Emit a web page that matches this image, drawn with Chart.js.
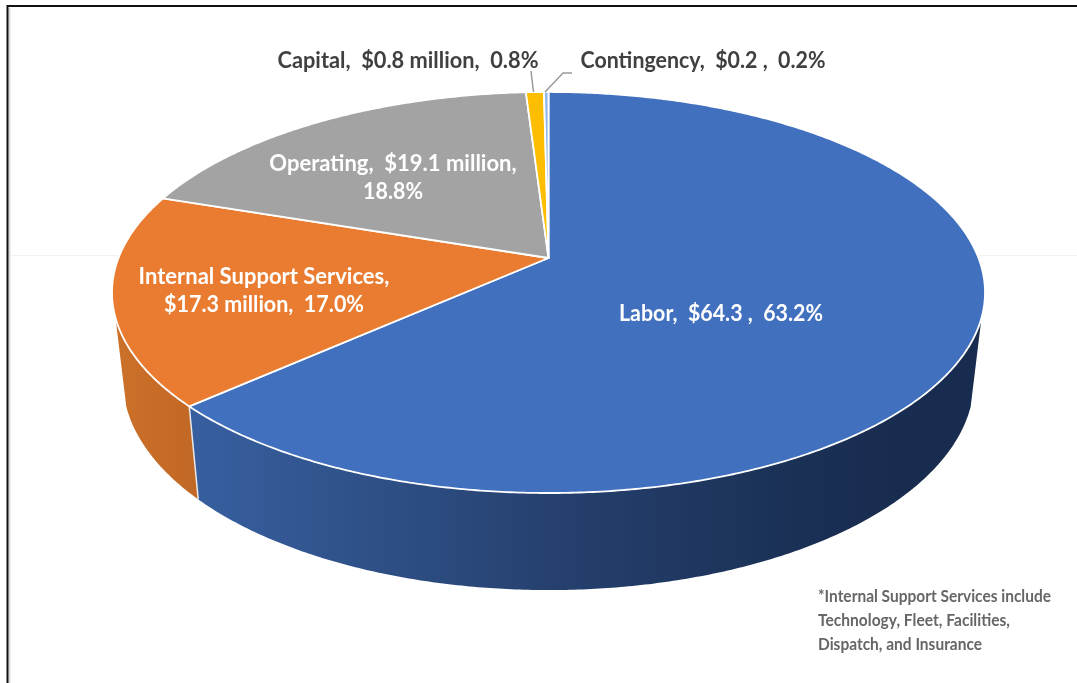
<!DOCTYPE html>
<html>
<head>
<meta charset="utf-8">
<title>Budget by category</title>
<style>
    html, body { margin: 0; padding: 0; background: #fff; overflow: hidden; }
    #wrap { width: 1077px; height: 683px; }
</style>
<script src="https://cdn.jsdelivr.net/npm/chart.js@4"></script>
</head>
<body>
<div id="wrap"><canvas id="budgetPie"></canvas></div>
<script>
const categories = ['Labor', 'Internal Support Services', 'Operating', 'Capital', 'Contingency'];
const amounts = [64.3, 17.3, 19.1, 0.8, 0.2];
const amountLabels = ['$64.3 ', '$17.3 million', '$19.1 million', '$0.8 million', '$0.2 '];
const sliceColors = ['#4170BF', '#E97C30', '#A3A3A3', '#FDBD00', '#8FB8E8'];
const footnoteLines = [
    '*Internal Support Services include',
    'Technology, Fleet, Facilities,',
    'Dispatch, and Insurance'
];

// disc projection: the pie is a circle seen from above, so the far half is shorter
const RX = 430, RY = 194.6, PERSP = -0.172;
// bottom rim of the cylinder
const DROP = 86, LOW_X = 0.975, LOW_Y = 1.047;
// part of the rim where the side wall faces the viewer
const WALL_FROM = 17 * Math.PI / 180, WALL_TO = 163 * Math.PI / 180;

const wallStops = {
    '#4170BF': [[197, '#375F9F'], [548, '#26416F'], [800, '#1A3055'], [900, '#182C4F']],
    '#E97C30': [[113, '#CB7129'], [197, '#C26826']]
};

function topPoint(arc, a) {
    const w = 1 + PERSP * Math.sin(a);
    return [arc.x + RX * Math.cos(a) / w, arc.y + RY * Math.sin(a) / w];
}

function lowPoint(arc, a) {
    const w = 1 + PERSP * Math.sin(a);
    return [arc.x + LOW_X * RX * Math.cos(a) / w, arc.y + DROP + LOW_Y * RY * Math.sin(a) / w];
}

function traceRim(ctx, arc, pointAt, from, to) {
    const steps = Math.max(2, Math.ceil(Math.abs(to - from) * 120));
    for (let i = 0; i <= steps; i++) {
        const p = pointAt(arc, from + (to - from) * i / steps);
        ctx.lineTo(p[0], p[1]);
    }
}

function drawWall(ctx, arc) {
    const stops = wallStops[arc.options.backgroundColor];
    const from = Math.max(arc.startAngle, WALL_FROM);
    const to = Math.min(arc.endAngle, WALL_TO);
    if (!stops || from >= to) return;

    const x0 = stops[0][0], x1 = stops[stops.length - 1][0];
    const grad = ctx.createLinearGradient(x0, 0, x1, 0);
    stops.forEach(s => grad.addColorStop((s[0] - x0) / (x1 - x0), s[1]));

    ctx.beginPath();
    traceRim(ctx, arc, topPoint, from, to);
    traceRim(ctx, arc, lowPoint, to, from);
    ctx.closePath();
    ctx.fillStyle = grad;
    ctx.fill();

    // seam between two neighbouring walls
    if (from > WALL_FROM) {
        const a = topPoint(arc, from), b = lowPoint(arc, from);
        ctx.beginPath();
        ctx.moveTo(a[0], a[1]);
        ctx.lineTo(b[0], b[1]);
        ctx.strokeStyle = '#E8E8E8';
        ctx.lineWidth = 1.5;
        ctx.stroke();
    }
}

// the library still lays out the slices, this only changes how each one is painted
Chart.ArcElement.prototype.draw = function (ctx) {
    const o = this.options;
    ctx.save();
    drawWall(ctx, this);
    ctx.beginPath();
    ctx.moveTo(this.x, this.y);
    traceRim(ctx, this, topPoint, this.startAngle, this.endAngle);
    ctx.closePath();
    ctx.fillStyle = o.backgroundColor;
    ctx.fill();
    ctx.lineJoin = 'round';
    ctx.strokeStyle = o.borderColor;
    ctx.lineWidth = o.borderWidth;
    ctx.stroke();
    ctx.restore();
};

const total = amounts.reduce((a, b) => a + b, 0);
const sliceText = categories.map((name, i) => {
    const pct = (amounts[i] / total * 100).toFixed(1) + '%';
    return [name + ',', amountLabels[i] + ',', pct];
});

const labelFont = 'bold 22px Lato, Carlito, sans-serif';
const labelSpots = [
    { lines: t => [`${t[0]}  ${t[1]}  ${t[2]}`], x: 721, y: 314, color: '#fff', w: [204] },
    { lines: t => [t[0], `${t[1]}  ${t[2]}`], x: 264, y: 277, color: '#fff', w: [253, 200] },
    { lines: t => [`${t[0]}  ${t[1]}`, t[2]], x: 393, y: 164, color: '#fff', w: [248, 60] },
    { lines: t => [`${t[0]}  ${t[1]}  ${t[2]}`], x: 408, y: 61, color: '#404040', w: [261] },
    { lines: t => [`${t[0]}  ${t[1]}  ${t[2]}`], x: 703, y: 61, color: '#404040', w: [245] }
];

const pieLabels = {
    id: 'pieLabels',
    afterDatasetsDraw(chart) {
        const ctx = chart.ctx;
        ctx.save();

        // leader lines for the two thin slices
        ctx.strokeStyle = '#9A9A9A';
        ctx.lineWidth = 1.5;
        ctx.beginPath();
        ctx.moveTo(531, 71);
        ctx.lineTo(533.5, 92);
        ctx.moveTo(572, 73);
        ctx.lineTo(563, 73);
        ctx.lineTo(545, 92);
        ctx.stroke();

        ctx.font = labelFont;
        ctx.textAlign = 'center';
        ctx.textBaseline = 'middle';
        labelSpots.forEach((spot, i) => {
            ctx.fillStyle = spot.color;
            spot.lines(sliceText[i]).forEach((line, n) => {
                ctx.fillText(line, spot.x, spot.y + n * 28, spot.w[n]);
            });
        });

        ctx.font = 'bold 17.5px Lato, Carlito, sans-serif';
        ctx.textAlign = 'left';
        ctx.fillStyle = '#666666';
        ctx.filter = 'blur(0.4px)';
        const widths = [233, 192, 164];
        footnoteLines.forEach((line, n) => {
            ctx.fillText(line, 818, 596 + n * 24, widths[n]);
        });
        ctx.restore();
    }
};

// thin frame along the top and left edges of the page, plus the faint rule behind the pie
const pageFrame = {
    id: 'pageFrame',
    beforeDraw(chart) {
        const ctx = chart.ctx;
        ctx.save();
        ctx.strokeStyle = '#F2F2F2';
        ctx.lineWidth = 1;
        ctx.beginPath();
        ctx.moveTo(9, 255.5);
        ctx.lineTo(1077, 255.5);
        ctx.stroke();
        ctx.strokeStyle = '#D9D9D9';
        ctx.lineWidth = 2;
        ctx.beginPath();
        ctx.moveTo(9.5, 683);
        ctx.lineTo(9.5, 8);
        ctx.stroke();
        ctx.strokeStyle = '#111';
        ctx.lineWidth = 2;
        ctx.beginPath();
        ctx.moveTo(7.5, 683);
        ctx.lineTo(7.5, 6);
        ctx.lineTo(1077, 6);
        ctx.stroke();
        ctx.restore();
    }
};

new Chart(document.getElementById('budgetPie'), {
    type: 'pie',
    data: {
        labels: categories,
        datasets: [{
            data: amounts,
            backgroundColor: sliceColors,
            borderColor: '#fff',
            borderWidth: 1.8
        }]
    },
    options: {
        responsive: true,
        maintainAspectRatio: false,
        animation: false,
        layout: { padding: { left: 20, top: 92, bottom: 259 } },
        plugins: { legend: { display: false }, tooltip: { enabled: false } }
    },
    plugins: [pageFrame, pieLabels]
});
</script>
</body>
</html>
